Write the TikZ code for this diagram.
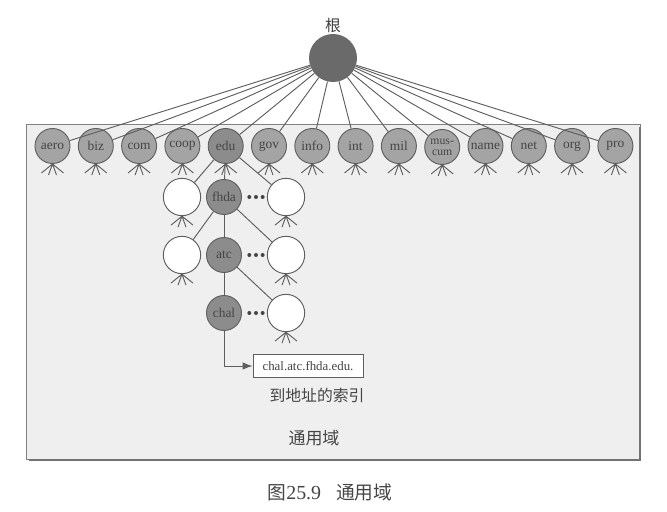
\documentclass[tikz,border=0pt]{standalone}
\usepackage{fontspec}
\setmainfont{Liberation Serif}
\newfontfamily\cjk{Noto Sans CJK SC}
\usepackage{tikz}
\usepackage{xcolor}
\usetikzlibrary{shapes, positioning, arrows.meta}

\definecolor{linegray}{HTML}{5E5E5E}
\definecolor{tldgray}{HTML}{A4A4A4}
\definecolor{pathgray}{HTML}{8C8C8C}
\definecolor{rootgray}{HTML}{6A6A6A}
\definecolor{boxgray}{HTML}{EFEFEF}
\definecolor{textgray}{HTML}{454545}

\tikzset{
    tld/.style={circle, draw=linegray, fill=tldgray, line width=0.8pt, minimum size=1.05cm, inner sep=0pt, text=textgray, font=\fontsize{11.5}{11}\selectfont},
    onpath/.style={tld, fill=pathgray},
    blank/.style={circle, draw=linegray, fill=white, line width=0.8pt, minimum size=1.12cm, inner sep=0pt},
    link/.style={draw=linegray, line width=0.8pt},
    fork/.style={draw=linegray, line width=0.8pt},
    dots/.style={draw=textgray, line width=3.4pt, line cap=round, dash pattern=on 0pt off 0.2cm, shorten <=0.22cm, shorten >=0.04cm},
    cjktext/.style={text=textgray, font=\cjk\fontsize{13.5}{14}\selectfont}
}

\begin{document}
\begin{tikzpicture}[x=0.03cm, y=-0.03cm]
        \useasboundingbox (0,0) rectangle (667,512);

        % the generic domain box
        \draw[draw=gray, fill=boxgray, line width=0.5pt] (26,124) rectangle (640,459);
        \draw[draw=gray!90!black, line width=2.5pt] (640,127) -- (640,460) -- (29,460);

        \node[circle, fill=rootgray, minimum size=1.44cm, inner sep=0pt] (root) at (333, 58) {};
        \node[cjktext, text=black!75] (rootlabel) at (333, 25) {根};

        \node[tld] (aero) at (52.5, 146) {aero};
        \node[tld] (biz) at (95.8, 146) {biz};
        \node[tld] (com) at (139.1, 146) {com};
        \node[tld] (coop) at (182.4, 146) {coop};
        \node[onpath] (edu) at (225.7, 146) {edu};
        \node[tld] (gov) at (269, 146) {gov};
        \node[tld] (info) at (312.3, 146) {info};
        \node[tld] (int) at (355.6, 146) {int};
        \node[tld] (mil) at (398.9, 146) {mil};
        \node[tld, align=center, font=\fontsize{10}{9.5}\selectfont] (museum) at (442.2, 147) {mus-\\cum};
        \node[tld] (name) at (485.5, 146) {name};
        \node[tld] (net) at (528.8, 146) {net};
        \node[tld] (org) at (572.1, 146) {org};
        \node[tld] (pro) at (615.4, 146) {pro};

        \foreach \d in {aero, biz, com, coop, edu, gov, info, int, mil, museum, name, net, org, pro}
            \draw[link] (root) -- (\d);

        % path down to chal
        \node[onpath] (fhda) at (224, 197) {fhda};
        \node[blank] (fhdaleft) at (182, 197) {};
        \node[blank] (fhdaright) at (286, 197) {};
        \node[onpath] (atc) at (224, 255) {atc};
        \node[blank] (atcleft) at (182, 255) {};
        \node[blank] (atcright) at (286, 255) {};
        \node[onpath] (chal) at (224, 313) {chal};
        \node[blank] (chalright) at (286, 313) {};

        \draw[link] (edu) -- (fhdaleft);
        \draw[link] (edu) -- (fhda);
        \draw[link] (edu) -- (fhdaright);
        \draw[link] (fhda) -- (atcleft);
        \draw[link] (fhda) -- (atc);
        \draw[link] (fhda) -- (atcright);
        \draw[link] (atc) -- (chal);
        \draw[link] (atc) -- (chalright);

        \draw[dots] (fhda.east) -- (fhdaright.west);
        \draw[dots] (atc.east) -- (atcright.west);
        \draw[dots] (chal.east) -- (chalright.west);

        \foreach \n in {aero, biz, com, coop, edu, gov, info, int, mil, museum, name, net, org, pro, fhdaleft, fhdaright, atcleft, atcright, chalright}
            \draw[fork] (\n.south) -- ++(-11,9) (\n.south) -- ++(-4,11) (\n.south) -- ++(4,11) (\n.south) -- ++(11,9);

        \node[draw=linegray, fill=white, line width=0.6pt, minimum width=3.3cm, minimum height=0.69cm, text=textgray, font=\fontsize{11}{11}\selectfont] (addr) at (308, 366) {chal.atc.fhda.edu.};
        \draw[link, -{Latex[length=3mm, width=2.2mm]}] (chal.south) |- (addr.west);

        \node[cjktext] (index) at (317, 395) {到地址的索引};
        \node[cjktext, font=\cjk\fontsize{14.5}{15}\selectfont] (generic) at (314, 438) {通用域};
        \node[cjktext, font=\cjk\fontsize{16}{17}\selectfont] (caption) at (330, 492) {图{\rmfamily\fontsize{17}{17}\selectfont 25.9}\hspace{0.8em}通用域};
    \end{tikzpicture}
\end{document}
